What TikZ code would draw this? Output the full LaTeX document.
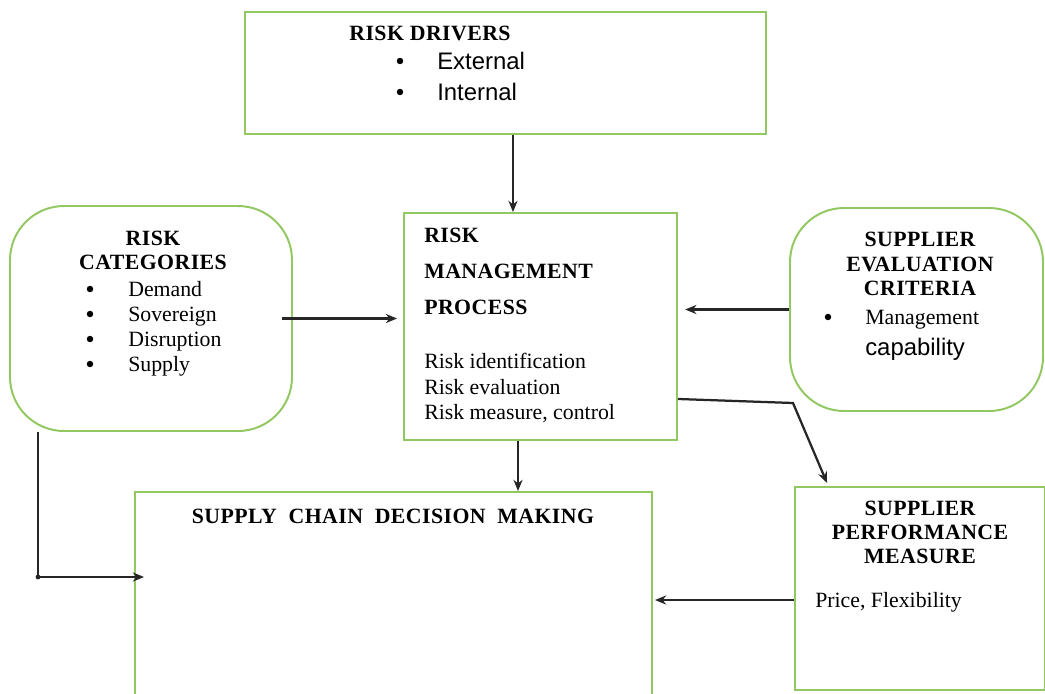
\documentclass[tikz,border=0pt]{standalone}
\usepackage{fontspec}
\setmainfont{Liberation Serif}
\newfontfamily\arialfont{Liberation Sans}
\usepackage{tikz}
\usetikzlibrary{arrows.meta,fit}
\definecolor{boxgreen}{RGB}{146,200,98}

\begin{document}
\begin{tikzpicture}[x=0.025cm,y=-0.025cm,>={Stealth[length=8pt,width=6.5pt]},
box/.style={draw=boxgreen,line width=1.4pt,inner sep=0pt},
rbox/.style={box,rounded corners=1.35cm},
hd/.style={font=\fontsize{15.5}{18}\selectfont\bfseries\addfontfeatures{LetterSpace=2},anchor=base,inner sep=0pt},
tx/.style={font=\fontsize{15.5}{18}\selectfont,anchor=base west,inner sep=0pt},
ar/.style={font=\arialfont\fontsize{17}{20}\selectfont,anchor=base west,inner sep=0pt},
bul/.style={circle,fill=black,inner sep=0pt,minimum size=4.6pt},
link/.style={->,line width=1.6pt,black!85}]
\clip(0,0)rectangle(1045,693);
% boxes
\node[box,fit={(245,12)(766,134)}](drivers){};
\node[rbox,fit={(10,206)(292,431)}](cats){};
\node[box,fit={(404,213)(677,440)}](process){};
\node[rbox,fit={(790,208)(1043,411)}](evalc){};
\node[box,fit={(795,487)(1045,690)}](perf){};
\node[box,fit={(135,492)(652,720)}](dec){};
% texts
\node[hd](drvh)at(430,40){RISK DRIVERS};
\node[bul](drb1)at(400,61){};
\node[ar](drt1)at(437,69){External};
\node[bul](drb2)at(400,92){};
\node[ar](drt2)at(437,100){Internal};
\node[hd](cath1)at(153,245){RISK};
\node[hd](cath2)at(153,269){CATEGORIES};
\foreach \t/\y in {Demand/296,Sovereign/321,Disruption/346,Supply/371}{
  \node[bul](catb\y)at(90,\y-7){};
  \node[tx](catt\y)at(128,\y){\t};
}
\node[hd,anchor=base west](prh1)at(424,242){RISK};
\node[hd,anchor=base west](prh2)at(424,278){MANAGEMENT};
\node[hd,anchor=base west](prh3)at(424,314){PROCESS};
\node[tx](prt1)at(424,368){Risk identification};
\node[tx](prt2)at(424,394){Risk evaluation};
\node[tx](prt3)at(424,419){Risk measure, control};
\node[hd](evh1)at(920,246){SUPPLIER};
\node[hd](evh2)at(920,271){EVALUATION};
\node[hd](evh3)at(920,295){CRITERIA};
\node[bul](evb)at(828,317){};
\node[tx](evt1)at(865,324){Management};
\node[ar](evt2)at(865,355){capability};
\node[hd](pfh1)at(920,515){SUPPLIER};
\node[hd](pfh2)at(920,539){PERFORMANCE};
\node[hd](pfh3)at(920,563){MEASURE};
\node[tx](pft)at(815,607){Price, Flexibility};
\node[hd](dech)at(393,523){SUPPLY\ \ CHAIN\ \ DECISION\ \ MAKING};
% connectors
\coordinate(kx)at(513,0);
\coordinate(ky)at(518,0);
\coordinate(kink)at(793,403);
\coordinate(jn)at(38,577);
\coordinate(pf)at(0,600);
\draw[link](drivers.south -| kx)--(process.north -| kx);
\draw[link]([xshift=-0.28cm]cats.east)--([xshift=-0.15cm]process.west |- cats.east);
\draw[link](evalc.west)--([xshift=0.18cm]process.east |- evalc.west);
\draw[link]([yshift=1.05cm]process.south east)--(kink)--([xshift=0.825cm,yshift=0.075cm]perf.north west);
\draw[link](process.south -| ky)--(dec.north -| ky);
\draw[link](cats.south -| jn)|-([xshift=0.25cm]dec.west |- jn);
\fill[black!85](jn)circle(0.06cm);
\draw[link](perf.west |- pf)--([xshift=0.05cm]dec.east |- pf);
\end{tikzpicture}
\end{document}
